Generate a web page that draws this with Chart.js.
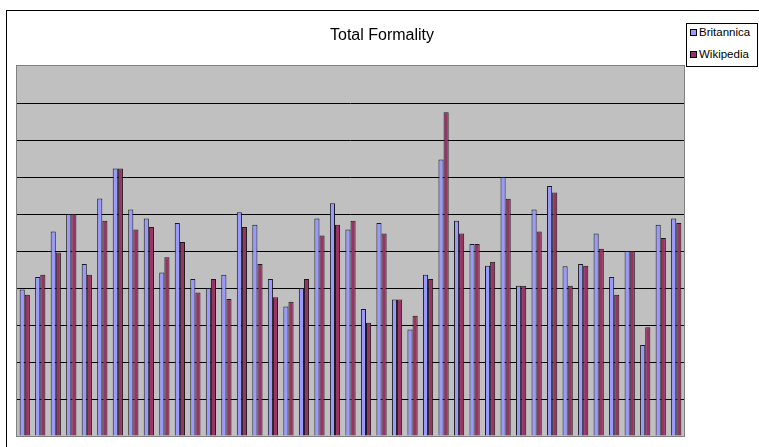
<!DOCTYPE html>
<html>
<head>
<meta charset="utf-8">
<script src="https://cdn.jsdelivr.net/npm/chart.js@4/dist/chart.umd.min.js"></script>
<style>
  html, body { margin: 0; padding: 0; background: #fff; }
  #wrap { position: relative; width: 759px; height: 447px; overflow: hidden; }
  #frame { position: absolute; left: 6px; top: 10px; width: 800px; height: 500px; border: 1px solid #000; box-sizing: border-box; pointer-events: none; }
  #legend { position: absolute; left: 686px; top: 23px; width: 72px; height: 44px; border: 1px solid #000; box-sizing: border-box; background: #fff;
            font-family: "Liberation Sans", Arial, sans-serif; font-size: 11.5px; color: #000; }
  #legend .item { position: absolute; left: 3px; display: flex; align-items: center; white-space: nowrap; }
  #legend .sw { width: 5px; height: 5px; border: 1px solid #000; margin-right: 2px; }
</style>
</head>
<body>
<div id="wrap">
  <canvas id="c" width="759" height="447"></canvas>
  <div id="frame"></div>
  <div id="legend"></div>
</div>
<script>
// Articles compared (one group of bars each)
const categories = ["1","2","3","4","5","6","7","8","9","10","11","12","13","14","15","16","17","18","19","20","21","22","23","24","25","26","27","28","29","30","31","32","33","34","35","36","37","38","39","40","41","42","43"];

// Formality score per article
const britannica = [39.6, 43.0, 55.3, 60.0, 46.5, 64.2, 72.3, 61.2, 58.8, 44.2,
                    57.6, 42.4, 40.0, 43.6, 60.5, 57.1, 42.4, 35.0, 40.0, 58.8,
                    62.9, 55.8, 34.3, 57.6, 36.9, 28.8, 43.6, 74.7, 58.2, 51.9,
                    46.0, 70.0, 40.6, 61.2, 67.6, 45.9, 46.5, 54.7, 43.0, 50.0,
                    24.6, 57.1, 58.8];
const wikipedia  = [38.2, 43.6, 49.6, 60.0, 43.6, 58.2, 72.3, 55.8, 56.5, 48.3,
                    52.4, 38.8, 42.4, 37.0, 56.5, 46.5, 37.5, 36.3, 42.4, 54.2,
                    57.1, 58.2, 30.6, 54.7, 36.9, 32.5, 42.4, 87.5, 54.7, 51.9,
                    47.1, 64.1, 40.6, 55.3, 65.8, 40.6, 46.0, 50.6, 38.2, 50.0,
                    29.4, 53.5, 57.6];

const seriesNames = ["Britannica", "Wikipedia"];
const seriesColors = ["#9999FF", "#993366"];

// Grey plot background with a thin grey frame
const plotBackground = {
  id: 'plotBackground',
  beforeDraw(chart) {
    const { ctx, chartArea: a } = chart;
    ctx.save();
    ctx.fillStyle = '#C0C0C0';
    ctx.fillRect(a.left, a.top, a.right - a.left, a.bottom - a.top);
    ctx.restore();
  },
  afterDatasetsDraw(chart) {
    const { ctx, chartArea: a } = chart;
    ctx.save();
    ctx.strokeStyle = '#808080';
    ctx.lineWidth = 1;
    ctx.strokeRect(a.left - 0.5, a.top - 0.5, a.right - a.left + 1, a.bottom - a.top + 1);
    ctx.restore();
  }
};

new Chart(document.getElementById('c'), {
  type: 'bar',
  data: {
    labels: categories,
    datasets: [
      { label: seriesNames[0], data: britannica, backgroundColor: seriesColors[0], borderColor: '#1a1a1a', borderWidth: 1 },
      { label: seriesNames[1], data: wikipedia,  backgroundColor: seriesColors[1], borderColor: '#1a1a1a', borderWidth: 1 }
    ]
  },
  options: {
    responsive: false,
    animation: false,
    devicePixelRatio: 1,
    layout: { padding: { left: 17, right: 12, top: 0, bottom: 11 } },
    datasets: { bar: { categoryPercentage: 0.66, barPercentage: 1.0 } },
    plugins: {
      legend: { display: false },
      tooltip: { enabled: false },
      title: {
        display: true,
        text: 'Total Formality',
        color: '#000',
        font: { family: '"Liberation Sans", Arial, sans-serif', size: 16, weight: 'normal', lineHeight: 1.2 },
        padding: { top: 26.4, bottom: 20.4 }
      }
    },
    scales: {
      x: { display: false },
      y: {
        display: true,
        min: 0,
        max: 100,
        ticks: { display: false, stepSize: 10 },
        border: { display: false },
        grid: {
          drawTicks: false,
          lineWidth: 1,
          color: (c) => (c.tick && (c.tick.value === 0 || c.tick.value === 100)) ? 'rgba(0,0,0,0)' : '#000'
        }
      },
      // empty right-hand axis reserving room for the legend box
      yRight: {
        position: 'right',
        display: true,
        min: 0,
        max: 100,
        ticks: { display: false },
        border: { display: false },
        grid: { display: false, drawTicks: false },
        afterFit: (scale) => { scale.width = 63; }
      }
    }
  },
  plugins: [plotBackground]
});

// Legend box built from the series names and colours
const legend = document.getElementById('legend');
seriesNames.forEach((name, i) => {
  const item = document.createElement('div');
  item.className = 'item';
  item.style.top = (i === 0 ? 2 : 24) + 'px';
  const sw = document.createElement('span');
  sw.className = 'sw';
  sw.style.background = seriesColors[i];
  const txt = document.createElement('span');
  txt.textContent = name;
  item.appendChild(sw);
  item.appendChild(txt);
  legend.appendChild(item);
});
</script>
</body>
</html>
